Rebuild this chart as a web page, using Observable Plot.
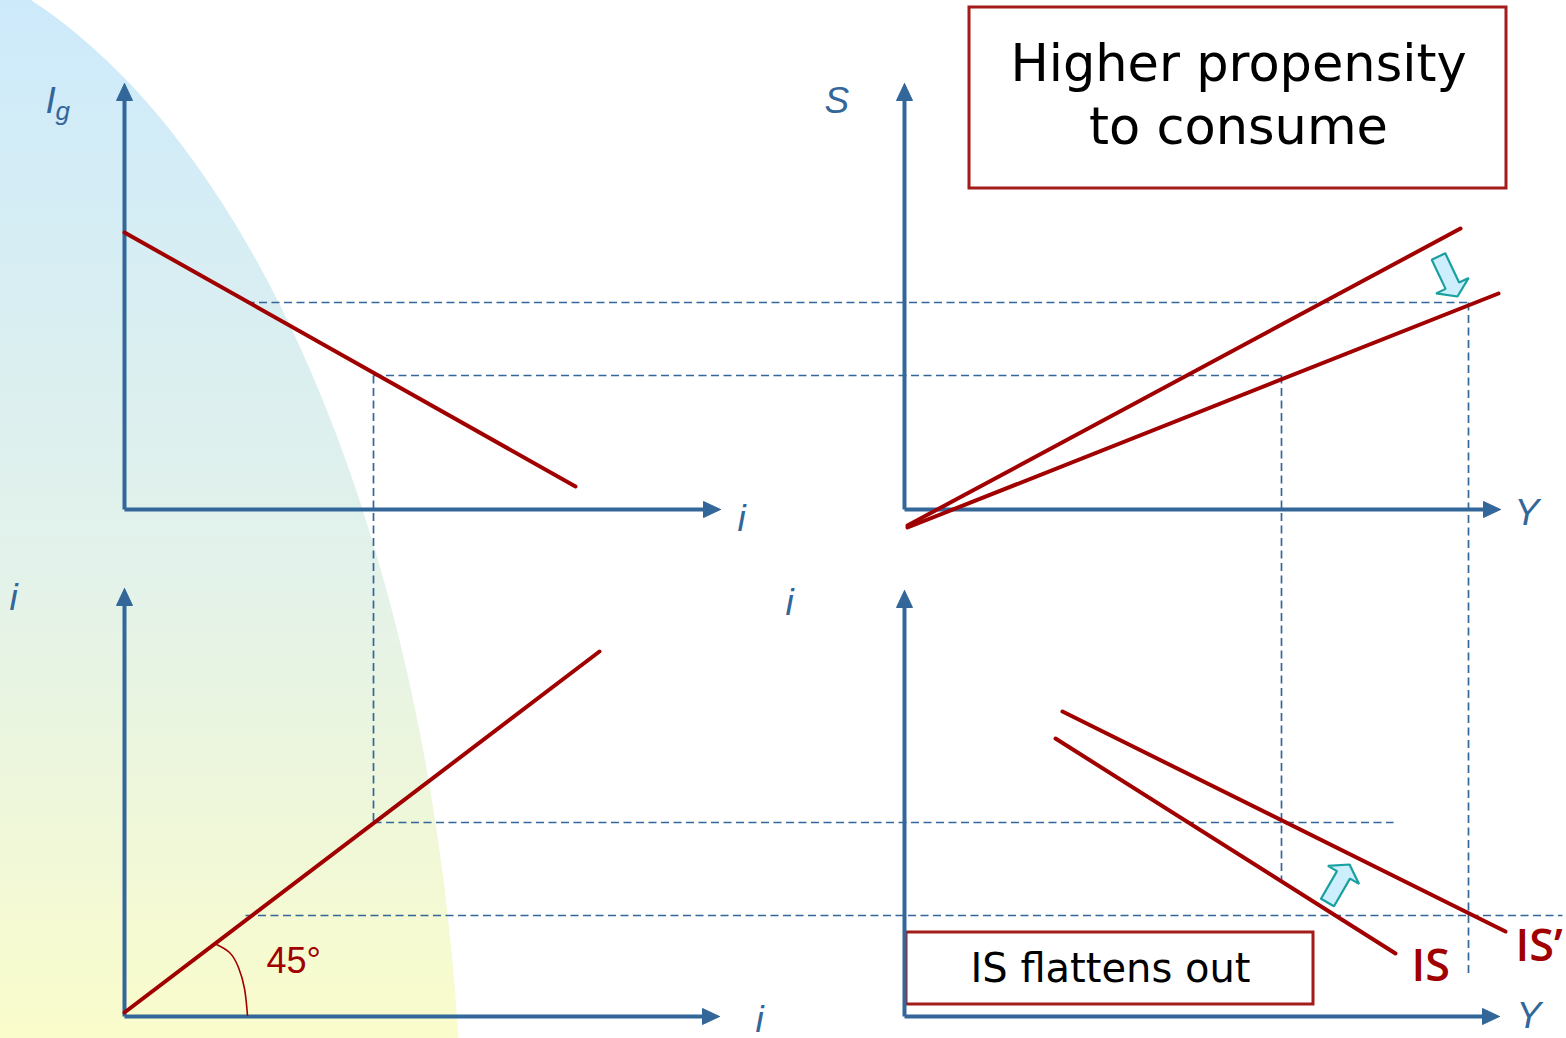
<!DOCTYPE html>
<html>
<head>
<meta charset="utf-8">
<script src="https://cdn.jsdelivr.net/npm/d3@7"></script>
<script src="https://cdn.jsdelivr.net/npm/@observablehq/plot@0.6"></script>
<style>
  html, body { margin: 0; padding: 0; background: #fff; }
  #stage { position: relative; width: 1566px; height: 1038px; overflow: hidden; }
  /* soft blue-to-yellow backdrop behind the left-hand quadrants */
  #backdrop {
    position: absolute; left: 0; top: 0; width: 1566px; height: 1038px;
    background: linear-gradient(to bottom, #cdeafb 0%, #e3f2ea 55%, #fafccb 100%);
    clip-path: ellipse(625px 1250px at -162px 1189px);
  }
  #stage svg { position: absolute; left: 0; top: 0; }
</style>
</head>
<body>
<div id="stage"><div id="backdrop"></div></div>
<script>
// Four-quadrant IS derivation: investment (Ig–i), saving (S–Y),
// the 45° mirror (i–i) and the resulting IS schedule (i–Y).
// Coordinates are diagram units: x to the right, y downward.

// Quadrant axes, drawn origin -> arrow tip
const axisLines = [
  {quadrant: "Ig-i", x1: 124, y1: 509,  x2: 124,  y2: 83},
  {quadrant: "Ig-i", x1: 124, y1: 509,  x2: 720,  y2: 509},
  {quadrant: "S-Y",  x1: 904, y1: 509,  x2: 904,  y2: 83},
  {quadrant: "S-Y",  x1: 904, y1: 509,  x2: 1500, y2: 509},
  {quadrant: "i-i",  x1: 124, y1: 1016, x2: 124,  y2: 588},
  {quadrant: "i-i",  x1: 124, y1: 1016, x2: 719,  y2: 1016},
  {quadrant: "i-Y",  x1: 904, y1: 1016, x2: 904,  y2: 590},
  {quadrant: "i-Y",  x1: 904, y1: 1016, x2: 1499, y2: 1016}
];

// Schedules
const investment = [{x: 124, y: 232}, {x: 575, y: 486}];
const saving     = [{x: 907, y: 525}, {x: 1460, y: 228}];
const savingNew  = [{x: 907, y: 527}, {x: 1498, y: 293}];
const mirror45   = [{x: 124, y: 1012}, {x: 599, y: 651}];
const isCurve    = [{x: 1055, y: 738}, {x: 1395, y: 953}];
const isCurveNew = [{x: 1062, y: 711}, {x: 1505, y: 931}];

// Angle mark on the 45° line
const angleArc = [
  {x: 214, y: 943}, {x: 229, y: 952}, {x: 238, y: 967},
  {x: 244, y: 988}, {x: 247, y: 1015}
];

// Dashed read-across guides
const guides = [
  {x1: 246,  y1: 302, x2: 1468, y2: 302},
  {x1: 1468, y1: 302, x2: 1468, y2: 974},
  {x1: 373,  y1: 375, x2: 1281, y2: 375},
  {x1: 373,  y1: 375, x2: 373,  y2: 822},
  {x1: 1281, y1: 375, x2: 1281, y2: 880},
  {x1: 373,  y1: 822, x2: 1393, y2: 822},
  {x1: 245,  y1: 915, x2: 1562, y2: 915}
];

// Shift arrows: saving line rotates down, IS rotates up
const shifts = [
  {from: [1438, 256], to: [1457, 296]},
  {from: [1327, 902], to: [1349, 864]}
];

// Text
const axisLabels = [
  {text: "I", x: 45,   y: 112},
  {text: "S", x: 824,  y: 112},
  {text: "i", x: 737,  y: 530},
  {text: "Y", x: 1514, y: 524},
  {text: "i", x: 9,    y: 609},
  {text: "i", x: 755,  y: 1031},
  {text: "i", x: 785,  y: 614},
  {text: "Y", x: 1516, y: 1027}
];
const subscripts = [{text: "g", x: 55, y: 119}];
const angleLabel = [{text: "45°", x: 266, y: 972}];
const curveLabels = [
  {text: "IS",  x: 1411, y: 980},
  {text: "IS’", x: 1515, y: 960}
];
const boxes = [
  {x1: 969, y1: 7,   x2: 1506, y2: 188},
  {x1: 906, y1: 932, x2: 1313, y2: 1004}
];
const headlineLines = [
  {text: "Higher propensity", x: 1238, y: 80},
  {text: "to consume",        x: 1238, y: 143}
];
const noteLines = [
  {text: "IS flattens out", x: 1110, y: 981}
];

// ---- geometry helpers -------------------------------------------------
const HEAD_LEN = 17, HEAD_HALF = 8;

function axisShaft(a) {
  const dx = a.x2 - a.x1, dy = a.y2 - a.y1, L = Math.hypot(dx, dy);
  const ux = dx / L, uy = dy / L;
  return {...a, x2: a.x2 - ux * (HEAD_LEN - 2), y2: a.y2 - uy * (HEAD_LEN - 2)};
}

function axisHead(a, id) {
  const dx = a.x2 - a.x1, dy = a.y2 - a.y1, L = Math.hypot(dx, dy);
  const ux = dx / L, uy = dy / L;
  const bx = a.x2 - ux * HEAD_LEN, by = a.y2 - uy * HEAD_LEN;
  return [
    {id, x: a.x2, y: a.y2},
    {id, x: bx - uy * HEAD_HALF, y: by + ux * HEAD_HALF},
    {id, x: bx + uy * HEAD_HALF, y: by - ux * HEAD_HALF},
    {id, x: a.x2, y: a.y2}
  ];
}

function blockArrow(s, id) {
  const [x0, y0] = s.from, [x1, y1] = s.to;
  const dx = x1 - x0, dy = y1 - y0, L = Math.hypot(dx, dy);
  const ux = dx / L, uy = dy / L, nx = -uy, ny = ux;
  const shaft = 7.5, head = 18, headLen = 12;
  const at = (t, w) => ({id, x: x0 + ux * t + nx * w, y: y0 + uy * t + ny * w});
  return [
    at(0, -shaft), at(L - headLen, -shaft), at(L - headLen, -head),
    at(L, 0),
    at(L - headLen, head), at(L - headLen, shaft), at(0, shaft), at(0, -shaft)
  ];
}

const AXIS = "#336699";
const RED = "#a00000";
const BOX_RED = "#a31b1b";

const chart = Plot.plot({
  width: 1566,
  height: 1038,
  margin: 0,
  x: {domain: [0, 1566], range: [0, 1566], axis: null},
  y: {domain: [0, 1038], range: [0, 1038], axis: null},
  style: {background: "transparent", overflow: "visible"},
  marks: [
    // dashed guides
    Plot.link(guides, {
      x1: "x1", y1: "y1", x2: "x2", y2: "y2",
      stroke: AXIS, strokeWidth: 1.7, strokeDasharray: "8,4.5"
    }),
    // headline boxes
    Plot.rect(boxes, {
      x1: "x1", y1: "y1", x2: "x2", y2: "y2",
      fill: "white", stroke: BOX_RED, strokeWidth: 3
    }),
    Plot.text(headlineLines, {
      x: "x", y: "y", text: "text",
      fontFamily: "DejaVu Sans", fontSize: 51,
      fill: "black", textAnchor: "middle", lineAnchor: "bottom"
    }),
    Plot.text(noteLines, {
      x: "x", y: "y", text: "text",
      fontFamily: "DejaVu Sans", fontSize: 40,
      fill: "black", textAnchor: "middle", lineAnchor: "bottom"
    }),
    // axes with filled heads
    Plot.link(axisLines.map(axisShaft), {
      x1: "x1", y1: "y1", x2: "x2", y2: "y2",
      stroke: AXIS, strokeWidth: 4
    }),
    Plot.line(axisLines.flatMap(axisHead), {
      x: "x", y: "y", z: "id", fill: AXIS, stroke: AXIS, strokeWidth: 1
    }),
    // schedules
    ...[investment, saving, savingNew, mirror45, isCurve, isCurveNew].map(d =>
      Plot.line(d, {x: "x", y: "y", stroke: RED, strokeWidth: 4})
    ),
    Plot.line(angleArc, {x: "x", y: "y", curve: "natural", stroke: RED, strokeWidth: 1.6}),
    // shift arrows
    Plot.line(shifts.flatMap(blockArrow), {
      x: "x", y: "y", z: "id", fill: "#cdeefc", stroke: "#19a0a0", strokeWidth: 2.2,
      strokeLinejoin: "miter"
    }),
    // labels
    Plot.text(axisLabels, {
      x: "x", y: "y", text: "text", textAnchor: "start", lineAnchor: "bottom",
      fontFamily: "Liberation Sans", fontStyle: "italic", fontSize: 37, fill: AXIS
    }),
    Plot.text(subscripts, {
      x: "x", y: "y", text: "text", textAnchor: "start", lineAnchor: "bottom",
      fontFamily: "Liberation Sans", fontStyle: "italic", fontSize: 26, fill: AXIS
    }),
    Plot.text(angleLabel, {
      x: "x", y: "y", text: "text", textAnchor: "start", lineAnchor: "bottom",
      fontFamily: "Liberation Sans", fontSize: 36, fill: RED
    }),
    Plot.text(curveLabels, {
      x: "x", y: "y", text: "text", textAnchor: "start", lineAnchor: "bottom",
      fontFamily: "Open Sans", fontWeight: 600, fontSize: 45, fill: RED
    })
  ]
});

document.getElementById("stage").appendChild(chart);
</script>
</body>
</html>
